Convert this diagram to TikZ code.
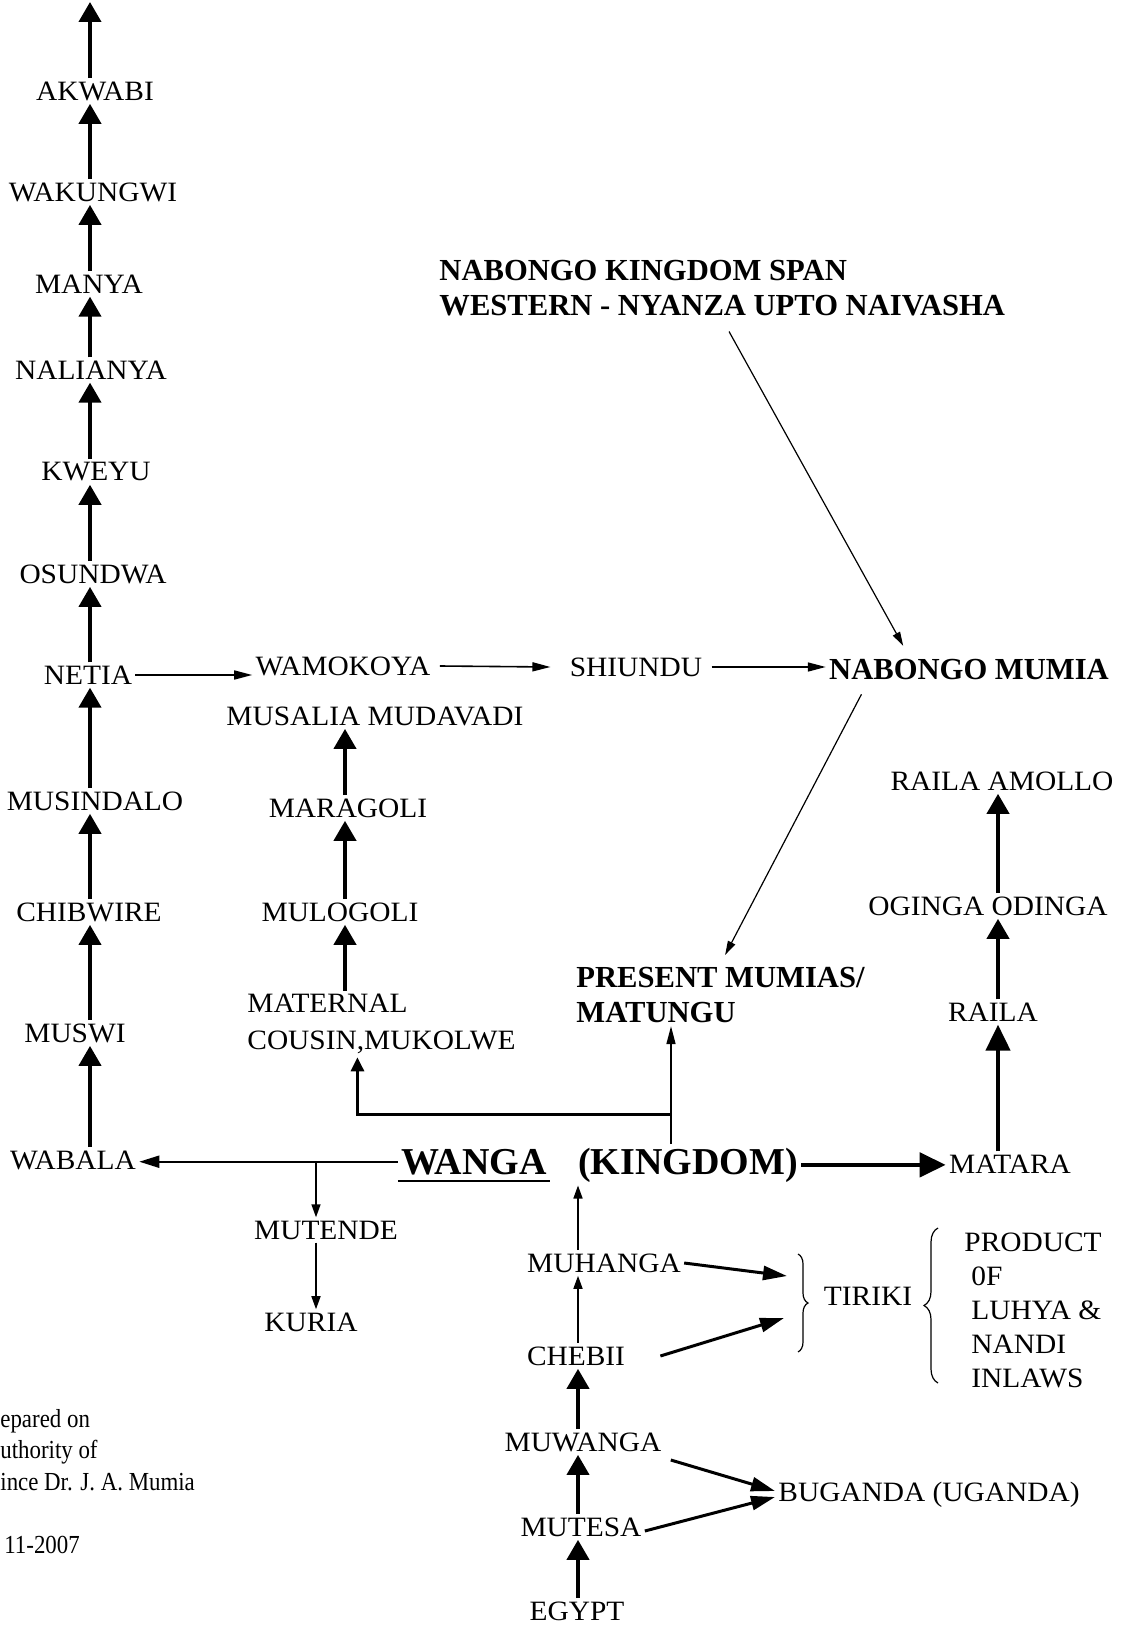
\documentclass[tikz,border=0pt]{standalone}
\usepackage{fontspec}
\setmainfont{Liberation Serif}[FakeStretch=1.05]
\newfontfamily\headfont{Liberation Serif}
\newfontfamily\notefont{Liberation Serif}[FakeStretch=0.88]
\usetikzlibrary{arrows.meta,decorations.pathreplacing}

\begin{document}
\begin{tikzpicture}[
    x=0.5pt, y=-0.5pt,
    person/.style={
        inner sep=1.5pt,
        align=left,
        font=\fontsize{14}{18.5}\selectfont
    },
    place/.style={
        inner sep=1.5pt,
        align=left,
        font=\headfont\bfseries\fontsize{15.3}{17.5}\selectfont
    },
    realm/.style={
        inner sep=1.5pt,
        font=\headfont\bfseries\fontsize{19}{22}\selectfont
    },
    stem/.style={line width=2pt, -{Triangle[width=11pt,length=10pt]}},
    bigstem/.style={line width=2.2pt, -{Triangle[width=12pt,length=13pt]}},
    twig/.style={line width=0.8pt, -{Triangle[width=4.5pt,length=6.5pt]}},
    link/.style={line width=0.8pt, -{Triangle[width=4.5pt,length=9pt]}},
    pointer/.style={line width=0.6pt, -{Triangle[width=4pt,length=7pt]}},
    fork/.style={line width=1.5pt, -{Triangle[width=7pt,length=12pt]}},
    curly/.style={decorate, decoration={brace, amplitude=#1}, line width=0.6pt}
]
    \fill[white] (0,0) rectangle (1123,1625);
    \useasboundingbox (0,0) rectangle (1123,1625);

    % spines of the vertical lines
    \coordinate (lspine) at (90,0);
    \coordinate (mspine) at (345,0);
    \coordinate (cspine) at (578,0);
    \coordinate (rspine) at (998,0);
    \coordinate (chaintop) at (90,2);

    % Left line
    \node[person] (akwabi) at (95,91) {AKWABI};
    \node[person] (wakungwi) at (93,192) {WAKUNGWI};
    \node[person] (manya) at (89,284) {MANYA};
    \node[person] (nalianya) at (91,370) {NALIANYA};
    \node[person] (kweyu) at (96,472) {KWEYU};
    \node[person] (osundwa) at (93,574) {OSUNDWA};
    \node[person] (netia) at (88,675) {NETIA};
    \node[person] (musindalo) at (95,801) {MUSINDALO};
    \node[person] (chibwire) at (89,912) {CHIBWIRE};
    \node[person] (muswi) at (75,1033) {MUSWI};
    \node[person] (wabala) at (73,1160) {WABALA};

    % Nabongo line
    \node[person] (wamokoya) at (343,666) {WAMOKOYA};
    \node[person] (shiundu) at (636,667) {SHIUNDU};
    \node[place] (mumia) at (969,670) {NABONGO MUMIA};
    \node[place, anchor=west] (title) at (436,288) {NABONGO KINGDOM SPAN\\WESTERN - NYANZA UPTO NAIVASHA};
    \node[place, anchor=west] (present) at (573,995) {PRESENT MUMIAS/\\MATUNGU};

    % Maragoli line
    \node[person] (musalia) at (375,716) {MUSALIA MUDAVADI};
    \node[person] (maragoli) at (348,808) {MARAGOLI};
    \node[person] (mulogoli) at (340,912) {MULOGOLI};
    \node[person, anchor=west] (maternal) at (244,1024) {MATERNAL\\COUSIN,MUKOLWE};

    % Luo line
    \node[person] (amollo) at (1002,781) {RAILA AMOLLO};
    \node[person] (oginga) at (988,906) {OGINGA ODINGA};
    \node[person] (raila) at (993,1012) {RAILA};
    \node[person] (matara) at (1010,1164) {MATARA};

    % Wanga
    \node[realm, anchor=base] (wanga) at (474,1174) {WANGA};
    \node[realm, anchor=base] (kingdom) at (688,1174) {(KINGDOM)};
    \node[person] (mutende) at (326,1230) {MUTENDE};
    \node[person] (kuria) at (311,1322) {KURIA};
    \node[person] (muhanga) at (604,1263) {MUHANGA};
    \node[person] (chebii) at (576,1356) {CHEBII};
    \node[person] (muwanga) at (583,1442) {MUWANGA};
    \node[person] (mutesa) at (581,1527) {MUTESA};
    \node[person] (egypt) at (577,1611) {EGYPT};
    \node[person] (tiriki) at (868,1296) {TIRIKI};
    \node[person, anchor=west, font=\fontsize{14}{17}\selectfont] (product) at (961,1310)
        {PRODUCT\\\hspace*{3.5pt}0F\\\hspace*{3.5pt}LUHYA \&\\\hspace*{3.5pt}NANDI\\\hspace*{3.5pt}INLAWS};
    \node[person, anchor=west] (buganda) at (775,1495) {BUGANDA (UGANDA)};

    % Footer
    \node[anchor=north west, inner sep=0pt, align=left,
          font=\notefont\fontsize{13}{15.75}\selectfont] (footnote) at (0,1409)
        {epared on\\uthority of\\ince Dr. J. A. Mumia\\[15.75pt]\hspace*{2pt}11-2007};

    % Arrows, left line
    \foreach \lo/\hi in {wakungwi/akwabi, manya/wakungwi, nalianya/manya, kweyu/nalianya,
                         osundwa/kweyu, netia/osundwa, musindalo/netia, chibwire/musindalo,
                         muswi/chibwire, wabala/muswi}
        \draw[stem] (\lo.north -| lspine) -- (\hi.south -| lspine);
    \draw[stem] (akwabi.north -| lspine) -- (chaintop);

    % Arrows, across
    \draw[link] (netia.east) -- (netia.east -| wamokoya.west);
    \draw[link] ([xshift=3pt]wamokoya.east) -- ([xshift=-8pt]shiundu.west);
    \draw[link] ([xshift=3pt]shiundu.east) -- (shiundu.east -| mumia.west);
    \draw[pointer, shorten <=7pt, shorten >=6pt] (title.south) -- ([xshift=-30pt]mumia.north);
    \draw[pointer, shorten <=6pt, shorten >=5pt] ([xshift=-51pt]mumia.south) -- (present.north);

    % Arrows, Maragoli line
    \foreach \lo/\hi in {maternal/mulogoli, mulogoli/maragoli, maragoli/musalia}
        \draw[stem] (\lo.north -| mspine) -- (\hi.south -| mspine);

    % Arrows, Luo line
    \draw[stem] (oginga.north -| rspine) -- (amollo.south -| rspine);
    \draw[stem] (raila.north -| rspine) -- (oginga.south -| rspine);
    \draw[bigstem] (matara.north -| rspine) -- (raila.south -| rspine);

    % Arrows, Wanga
    \coordinate (junction) at (671,1114);
    \draw[link] ([xshift=-8.5pt]kingdom.north) -- ([xshift=-8.5pt]kingdom.north |- present.south);
    \draw[line width=1.5pt, -{Triangle[width=6.5pt,length=7pt]}] (junction) -| ([xshift=-12pt]maternal.south);
    \draw[line width=1pt, -{Triangle[width=6pt,length=10pt]}] (wanga.west) -- (wanga.west -| wabala.east);
    \draw[bigstem] (kingdom.east) -- (kingdom.east -| matara.west);
    \draw[line width=1.3pt] ([yshift=-3.5pt]wanga.base west) -- ([yshift=-3.5pt]wanga.base east);
    \draw[twig] ([xshift=-5pt]mutende.north |- wanga.west) -- ([xshift=-5pt]mutende.north);
    \draw[twig] ([xshift=-5pt]mutende.south) -- ([xshift=-5pt]mutende.south |- kuria.north);
    \draw[twig] (muhanga.north -| cspine) -- (kingdom.south -| cspine);
    \draw[twig] (chebii.north -| cspine) -- (muhanga.south -| cspine);
    \draw[stem] (muwanga.north -| cspine) -- (chebii.south -| cspine);
    \draw[stem] (mutesa.north -| cspine) -- (muwanga.south -| cspine);
    \draw[stem] (egypt.north -| cspine) -- (mutesa.south -| cspine);

    % Tiriki
    \coordinate (tirtop) at (787,1276);
    \coordinate (tirbot) at (784,1318);
    \draw[fork] (muhanga.east) -- (tirtop);
    \draw[fork] ([xshift=16pt]chebii.east) -- (tirbot);
    \draw[curly=5pt] (798,1254) -- (798,1352);
    \draw[curly=7pt] (938,1383) -- (938,1228);

    % Buganda
    \draw[fork] ([xshift=3pt,yshift=-9pt]muwanga.east) -- ([yshift=2pt]buganda.west);
    \draw[fork] ([yshift=-2pt]mutesa.east) -- ([yshift=-1pt]buganda.west);
\end{tikzpicture}
\end{document}
